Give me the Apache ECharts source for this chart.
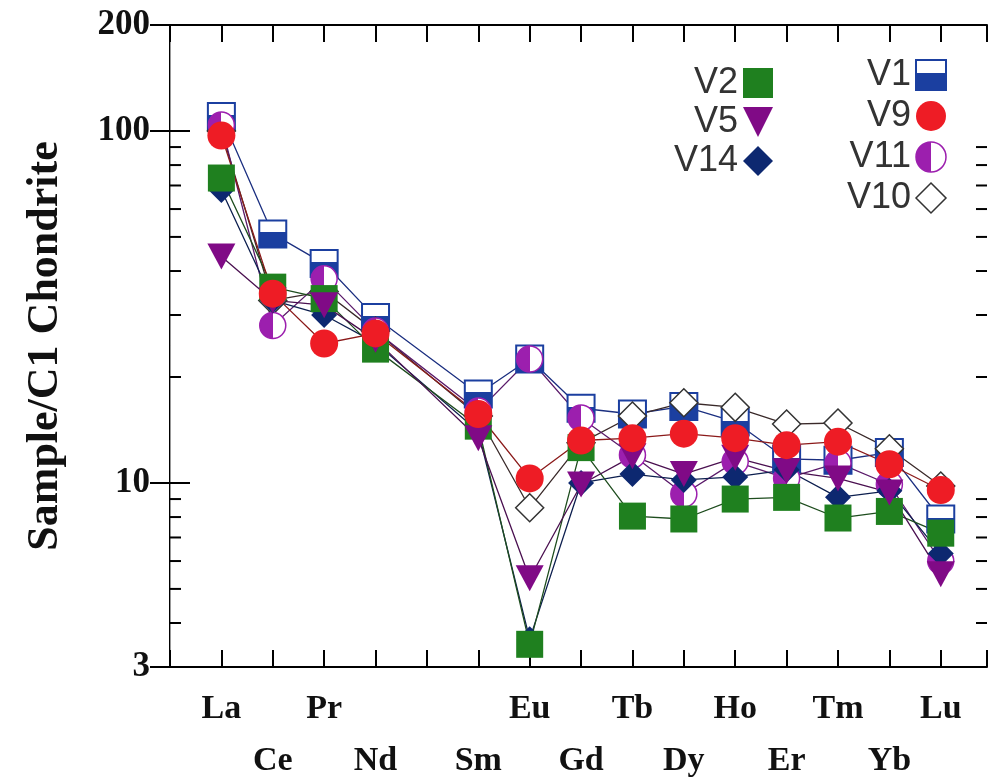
<!DOCTYPE html>
<html>
<head>
<meta charset="utf-8">
<script src="https://cdn.jsdelivr.net/npm/echarts@6/dist/echarts.min.js"></script>
<style>
  html, body { margin: 0; padding: 0; background: #fff; }
  #chart { width: 990px; height: 783px; }
</style>
</head>
<body>
<div id="chart"></div>
<script>
// ---- data ----
const elements = ['La','Ce','Pr','Nd','Pm','Sm','Eu','Gd','Tb','Dy','Ho','Er','Tm','Yb','Lu'];
const hiddenLabels = ['Pm'];
const yLabelValues = [3, 10, 100, 200];
const yMinorTicks = [4, 5, 6, 7, 8, 9, 20, 30, 40, 50, 60, 70, 80, 90];

const V1  = [110, 51, 42, 29.5, null, 17.9, 22.5, 16.3, 15.7, 16.5, 14.9, 11.7, 11.6, 12.2, 7.9];
const V10 = [100, 33, 35, 27, null, 15.5, 8.5, 13, 15.5, 16.9, 16.4, 14.7, 14.8, 12.5, 9.8];
const V11 = [104, 28, 38, 27, null, 16, 22.5, 15.3, 12, 9.3, 11.5, 10.3, 11.4, 9.9, 6.0];
const V14 = [68, 33, 30, 25, null, 14, 3.6, 10, 10.6, 10.2, 10.4, 10.9, 9.1, 9.5, 6.3];
const V2  = [73.5, 36, 33.4, 24, null, 14.5, 3.48, 12.6, 8.05, 7.9, 9.0, 9.1, 7.95, 8.3, 7.2];
const V5  = [44, 33, 32, 25.5, null, 13.4, 5.36, 9.9, 11.9, 10.6, 11.8, 10.8, 10.3, 9.4, 5.5];
const V9  = [97, 34.5, 24.9, 26.6, null, 15.7, 10.3, 13.2, 13.4, 13.8, 13.4, 12.8, 13.1, 11.3, 9.55];

// ---- styles ----
const serif = 'Liberation Serif';
const sans = 'Liberation Sans';
const downTri = 'path://M0,0 L10,0 L5,10 Z';
const G = echarts.graphic;
const v1Fill = new G.LinearGradient(0, 0, 0, 1, [
  {offset: 0, color: '#ffffff'}, {offset: 0.45, color: '#ffffff'},
  {offset: 0.45, color: '#1b3fa0'}, {offset: 1, color: '#1b3fa0'}]);
const v11Fill = new G.LinearGradient(0, 0, 1, 0, [
  {offset: 0, color: '#9c1fae'}, {offset: 0.5, color: '#9c1fae'},
  {offset: 0.5, color: '#ffffff'}, {offset: 1, color: '#ffffff'}]);

const seriesDefs = [
  {name: 'V1',  values: V1,  symbol: 'rect',    size: 27, item: {color: v1Fill, borderColor: '#1b3fa0', borderWidth: 2}, line: '#1b2f80'},
  {name: 'V10', values: V10, symbol: 'diamond', size: [28, 28], item: {color: '#ffffff', borderColor: '#333', borderWidth: 1.5}, line: '#3a2a2a'},
  {name: 'V11', values: V11, symbol: 'circle',  size: 26, item: {color: v11Fill, borderColor: '#9c1fae', borderWidth: 1.5}, line: '#5a1a6a'},
  {name: 'V14', values: V14, symbol: 'diamond', size: [26, 26], item: {color: '#0d2870'}, line: '#0d1f4f'},
  {name: 'V2',  values: V2,  symbol: 'rect',    size: 27, item: {color: '#1f801f'}, line: '#1e4d1e'},
  {name: 'V5',  values: V5,  symbol: downTri,   size: [28, 26], item: {color: '#800a86'}, line: '#4a1050'},
  {name: 'V9',  values: V9,  symbol: 'circle',  size: 28, item: {color: '#ee1c25'}, line: '#8b1a1a'}
];

const series = seriesDefs.map(d => ({
  name: d.name,
  type: 'line',
  data: d.values.map((v, i) => v == null ? null : [i + 1, v]).filter(p => p),
  symbol: d.symbol,
  symbolSize: d.size,
  itemStyle: d.item,
  lineStyle: {color: d.line, width: 1.3},
  emphasis: {disabled: true},
  animation: false
}));

// minor ticks on log axes (positions via the library's own scale)
series.push({
  type: 'custom',
  silent: true,
  animation: false,
  data: yMinorTicks.map(v => [1, v]),
  renderItem: function (params, api) {
    const p = api.coord([1, api.value(1)]);
    const left = params.coordSys.x;
    const right = left + params.coordSys.width;
    return {
      type: 'group',
      children: [
        {type: 'line', shape: {x1: left, y1: p[1], x2: left + 11, y2: p[1]}, style: {stroke: '#000', lineWidth: 2}},
        {type: 'line', shape: {x1: right - 11, y1: p[1], x2: right, y2: p[1]}, style: {stroke: '#000', lineWidth: 2}}
      ]
    };
  }
});

function legendItem(name) {
  const d = seriesDefs.find(s => s.name === name);
  return {name: name, icon: d.symbol, itemStyle: Object.assign({}, d.item)};
}

const chart = echarts.init(document.getElementById('chart'), null, {renderer: 'canvas'});
chart.setOption({
  backgroundColor: '#ffffff',
  animation: false,
  grid: {left: 170, top: 25, right: 3, bottom: 116, outerBoundsMode: 'none', containLabel: false},
  legend: [
    {
      data: ['V2', 'V5', 'V14'].map(legendItem),
      orient: 'vertical', align: 'right', right: 212, top: 60,
      itemWidth: 30, itemHeight: 30, itemGap: 3,
      selectedMode: false,
      textStyle: {fontFamily: sans, fontSize: 36, color: '#333', lineHeight: 30}
    },
    {
      data: ['V1', 'V9', 'V11', 'V10'].map(legendItem),
      orient: 'vertical', align: 'right', right: 38, top: 52,
      itemWidth: 30, itemHeight: 30, itemGap: 5,
      selectedMode: false,
      textStyle: {fontFamily: sans, fontSize: 36, color: '#333', lineHeight: 30}
    }
  ],
  xAxis: [
    {
      type: 'value', position: 'bottom', min: 0, max: 15.9, interval: 1,
      axisLine: {lineStyle: {color: '#000', width: 2}},
      axisTick: {inside: true, length: 17, lineStyle: {color: '#000', width: 2}},
      splitLine: {show: false},
      axisLabel: {
        margin: 16, fontFamily: serif, fontWeight: 'bold', fontSize: 34, color: '#111', lineHeight: 52,
        formatter: function (v) {
          const name = elements[v - 1];
          if (!name || hiddenLabels.indexOf(name) >= 0) return '';
          return (v % 2 === 1) ? name : '\n' + name;
        }
      }
    },
    {
      type: 'value', position: 'top', min: 0, max: 15.9, interval: 1,
      axisLine: {lineStyle: {color: '#000', width: 2}},
      axisTick: {inside: true, length: 17, lineStyle: {color: '#000', width: 2}},
      axisLabel: {show: false},
      splitLine: {show: false}
    }
  ],
  yAxis: [
    {
      type: 'log', logBase: 10, min: 3, max: 200, position: 'left',
      name: 'Sample/C1 Chondrite', nameLocation: 'middle', nameRotate: 90, nameGap: 102,
      nameTextStyle: {fontFamily: serif, fontWeight: 'bold', fontSize: 44, color: '#111'},
      axisLine: {lineStyle: {color: '#000', width: 2}},
      axisTick: {inside: true, length: 20, lineStyle: {color: '#000', width: 2}},
      splitLine: {show: false},
      axisLabel: {
        margin: 20, fontFamily: serif, fontWeight: 'bold', fontSize: 35, color: '#111',
        formatter: function (v) { return yLabelValues.indexOf(Math.round(v)) >= 0 ? String(Math.round(v)) : ''; }
      }
    },
    {
      type: 'log', logBase: 10, min: 3, max: 200, position: 'right',
      axisLine: {lineStyle: {color: '#999', width: 1}},
      axisTick: {inside: true, length: 20, lineStyle: {color: '#000', width: 2}},
      axisLabel: {show: false},
      splitLine: {show: false}
    }
  ],
  series: series
});
</script>
</body>
</html>
